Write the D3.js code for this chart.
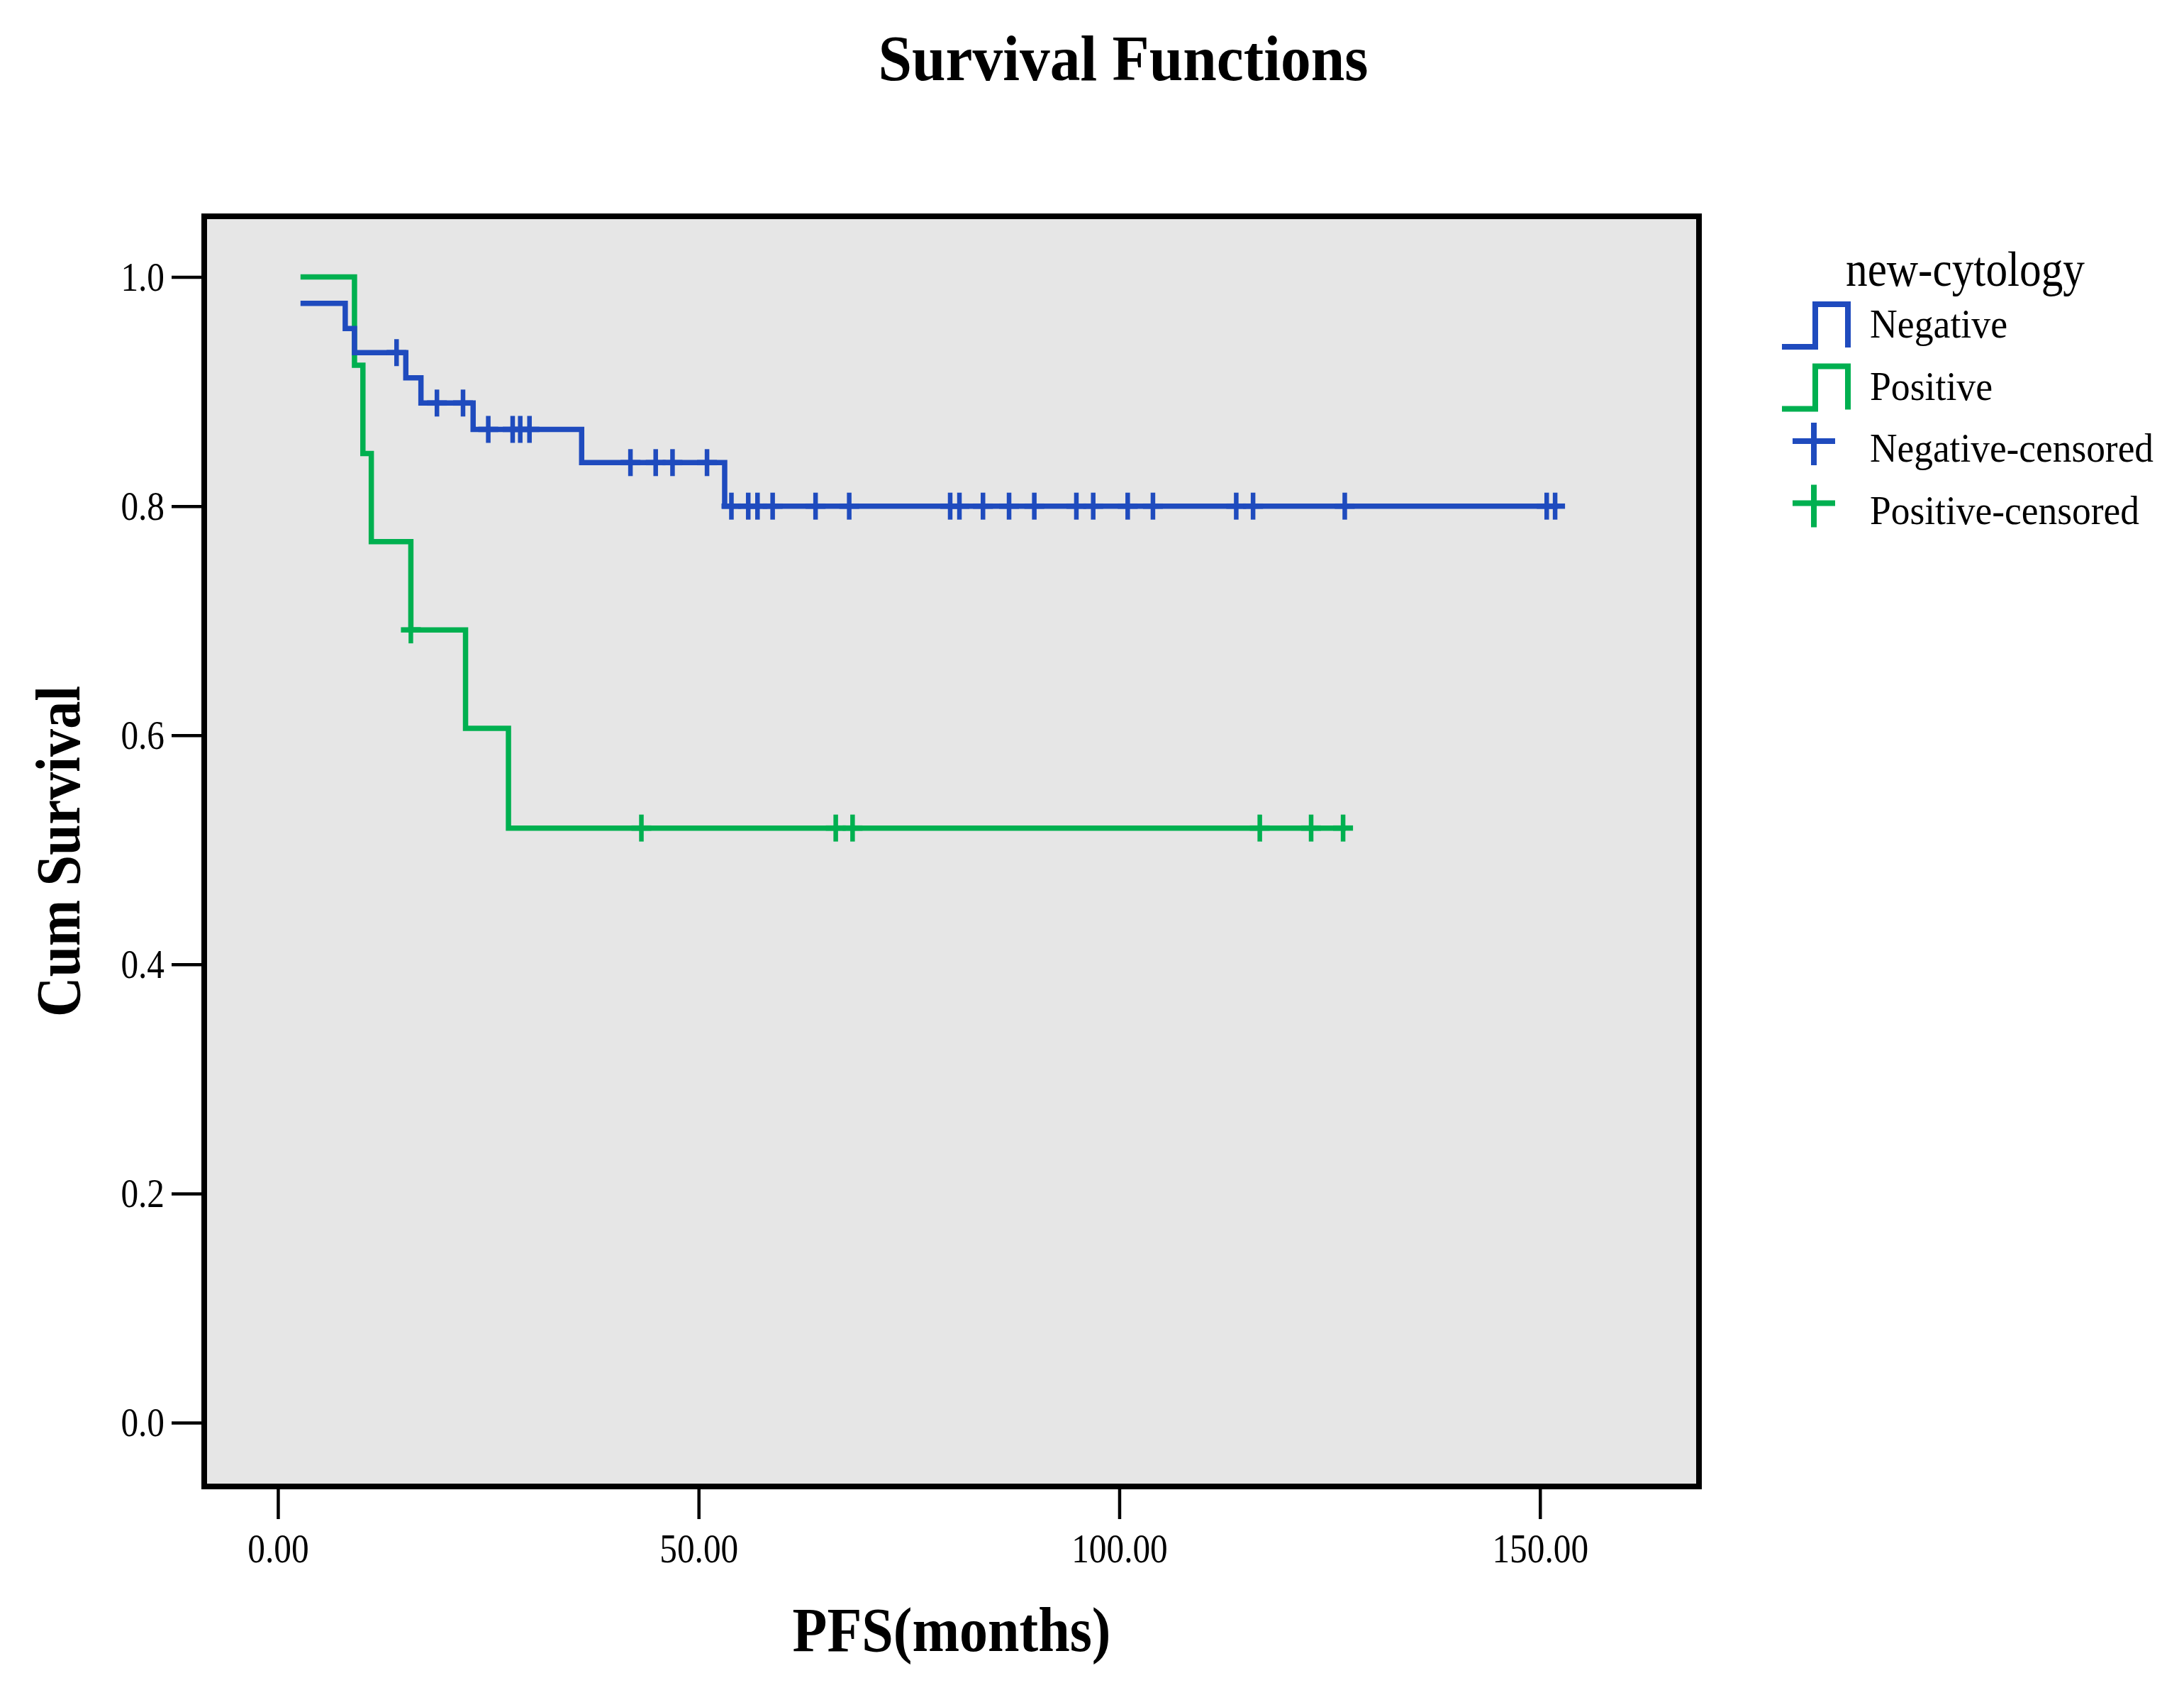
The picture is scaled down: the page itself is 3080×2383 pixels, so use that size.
<!DOCTYPE html>
<html>
<head>
<meta charset="utf-8">
<script src="https://cdn.jsdelivr.net/npm/d3@7"></script>
<style>
  body { margin: 0; background: #fff; }
  text { font-family: "Liberation Serif", "DejaVu Serif", serif; fill: #000; }
</style>
</head>
<body>
<div class="graph-section"></div>
<script>
// Kaplan-Meier steps
var negTimes = [3.0, 8.0, 9.1, 15.2, 17.0, 23.2, 36.1, 53.1];
var negSurv  = [0.977, 0.955, 0.934, 0.912, 0.890, 0.867, 0.838, 0.800];
var negCensored = [14.1, 18.9, 22.0, 25.0, 27.9, 28.8, 29.9, 41.9, 44.9, 46.9, 51.0,
                   53.9, 55.9, 57.0, 58.8, 63.9, 67.9, 79.9, 81.0, 83.8, 86.9, 89.9,
                   94.9, 96.9, 101.0, 104.0, 113.9, 115.9, 126.8, 150.8, 151.8];

var posTimes = [3.0, 9.1, 10.1, 11.1, 15.8, 22.3, 27.4];
var posSurv  = [1.0, 0.923, 0.846, 0.769, 0.692, 0.606, 0.519];
var posCensored = [15.8, 43.2, 66.3, 68.3, 116.7, 122.8, 126.6];

var xTicks = [0, 50, 100, 150];
var yTicks = [0, 0.2, 0.4, 0.6, 0.8, 1.0];

var legendLabels = ["Negative", "Positive", "Negative-censored", "Positive-censored"];

var screen = {width: 3080, height: 2383};
var box = {left: 288, right: 2396, top: 305, bottom: 2096};

var colors = {neg: "#1f4bbe", pos: "#00b050"};

var svg = d3.select(".graph-section")
            .append("svg")
            .attr("width", screen.width)
            .attr("height", screen.height);

svg.append("rect")
   .attr("width", screen.width)
   .attr("height", screen.height)
   .attr("fill", "#fff");

var xScale = d3.scaleLinear()
               .domain([-8.76, 168.9])
               .range([box.left, box.right]);

var yScale = d3.scaleLinear()
               .domain([-0.0557, 1.053])
               .range([box.bottom, box.top]);

// plot area
svg.append("rect")
   .attr("x", box.left)
   .attr("y", box.top)
   .attr("width", box.right - box.left)
   .attr("height", box.bottom - box.top)
   .attr("fill", "#e6e6e6");

// squeeze serif text to look like the narrow SPSS font
var squeeze = function(sel, k){
  sel.each(function(){
    var w = this.getComputedTextLength();
    d3.select(this).attr("textLength", w * k).attr("lengthAdjust", "spacingAndGlyphs");
  });
};

var xAxis = d3.axisBottom(xScale)
              .tickValues(xTicks)
              .tickSize(46)
              .tickPadding(20)
              .tickFormat(d3.format(".2f"));

var yAxis = d3.axisLeft(yScale)
              .tickValues(yTicks)
              .tickSize(46)
              .tickPadding(10)
              .tickFormat(d3.format(".1f"));

var gx = svg.append("g")
   .attr("transform", "translate(0," + box.bottom + ")")
   .call(xAxis);
var gy = svg.append("g")
   .attr("transform", "translate(" + box.left + ",0)")
   .call(yAxis);

[gx, gy].forEach(function(g){
  g.select(".domain").remove();
  g.selectAll(".tick line").attr("stroke", "#000").attr("stroke-width", 4.5);
  g.selectAll(".tick text")
   .attr("font-size", 58)
   .attr("font-family", "Liberation Serif")
   .attr("fill", "#000")
   .call(squeeze, 0.85);
});

var makeSteps = function(times, surv, censored){
  var pts = times.map(function(t, i){ return {t: t, s: surv[i]}; });
  var last = d3.max(censored.concat(times));
  pts.push({t: last, s: surv[surv.length - 1]});
  return pts;
};

var survAt = function(times, surv, t){
  var i = d3.bisectRight(times, t) - 1;
  return surv[Math.max(i, 0)];
};

var line = d3.line()
             .x(function(d){ return xScale(d.t); })
             .y(function(d){ return yScale(d.s); })
             .curve(d3.curveStepAfter);

var groups = [
  {times: negTimes, surv: negSurv, cens: negCensored, color: colors.neg},
  {times: posTimes, surv: posSurv, cens: posCensored, color: colors.pos}
];

var plotLand = svg.append("g").classed("plot", true);

// green first, blue on top where they overlap
groups.slice().reverse().forEach(function(g){
  plotLand.append("path")
          .datum(makeSteps(g.times, g.surv, g.cens))
          .attr("d", line)
          .attr("fill", "none")
          .attr("stroke", g.color)
          .attr("stroke-width", 7.5)
          .attr("stroke-linejoin", "miter")
          .attr("stroke-linecap", "square");

  var marks = plotLand.append("g").selectAll("g")
          .data(g.cens)
          .enter()
          .append("g")
          .attr("transform", function(d){
            return "translate(" + xScale(d) + "," + yScale(survAt(g.times, g.surv, d)) + ")";
          });
  marks.append("line")
       .attr("x1", 0).attr("x2", 0).attr("y1", -19).attr("y2", 19)
       .attr("stroke", g.color).attr("stroke-width", 6.5);
  marks.append("line")
       .attr("x1", -14).attr("x2", 14).attr("y1", 0).attr("y2", 0)
       .attr("stroke", g.color).attr("stroke-width", 7.5);
});

// frame
svg.append("rect")
   .attr("x", box.left)
   .attr("y", box.top)
   .attr("width", box.right - box.left)
   .attr("height", box.bottom - box.top)
   .attr("fill", "none")
   .attr("stroke", "#000")
   .attr("stroke-width", 8);

// titles
svg.append("text")
   .attr("x", 1584)
   .attr("y", 113)
   .attr("text-anchor", "middle")
   .attr("font-size", 90)
   .attr("font-weight", "bold")
   .attr("textLength", 691)
   .attr("lengthAdjust", "spacingAndGlyphs")
   .text("Survival Functions");

svg.append("text")
   .attr("x", (box.left + box.right) / 2)
   .attr("y", 2328)
   .attr("text-anchor", "middle")
   .attr("font-size", 88)
   .attr("font-weight", "bold")
   .attr("textLength", 449)
   .attr("lengthAdjust", "spacingAndGlyphs")
   .text("PFS(months)");

svg.append("text")
   .attr("transform", "translate(112," + ((box.top + box.bottom) / 2) + ") rotate(-90)")
   .attr("text-anchor", "middle")
   .attr("font-size", 88)
   .attr("font-weight", "bold")
   .attr("textLength", 467)
   .attr("lengthAdjust", "spacingAndGlyphs")
   .text("Cum Survival");

// legend
var legend = svg.append("g")
                .classed("legend", true)
                .attr("transform", "translate(2513,403)");

legend.append("text")
      .attr("x", 90)
      .attr("y", 0)
      .attr("font-size", 70)
      .attr("textLength", 337)
      .attr("lengthAdjust", "spacingAndGlyphs")
      .text("new-cytology");

var legendColors = [colors.neg, colors.pos, colors.neg, colors.pos];
var legendWidths = [194, 173, 400, 380];

var legendLines = legend.selectAll("g.legendLine")
                        .data(legendLabels)
                        .enter()
                        .append("g")
                        .classed("legendLine", true)
                        .attr("transform", function(d, i){
                          return "translate(0," + (i * 87.5) + ")";
                        });

legendLines.append("text")
           .attr("x", 124)
           .attr("y", 73)
           .attr("font-size", 56)
           .attr("textLength", function(d, i){ return legendWidths[i]; })
           .attr("lengthAdjust", "spacingAndGlyphs")
           .text(function(d){ return d; });

legendLines.filter(function(d, i){ return i < 2; })
           .append("path")
           .attr("d", "M0,86 H47 V26 H93 V87")
           .attr("fill", "none")
           .attr("stroke", function(d, i){ return legendColors[i]; })
           .attr("stroke-width", 8);

legendLines.filter(function(d, i){ return i >= 2; })
           .each(function(d, i){
             var g = d3.select(this);
             var c = legendColors[i + 2];
             g.append("line").attr("x1", 45).attr("x2", 45).attr("y1", 18).attr("y2", 78)
              .attr("stroke", c).attr("stroke-width", 8);
             g.append("line").attr("x1", 15).attr("x2", 75).attr("y1", 44).attr("y2", 44)
              .attr("stroke", c).attr("stroke-width", 8);
           });
</script>
</body>
</html>
